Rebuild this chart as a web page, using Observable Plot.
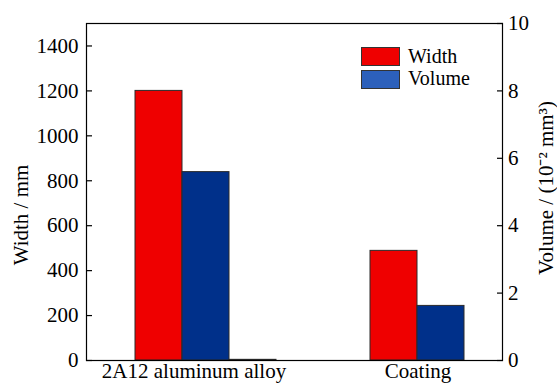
<!DOCTYPE html>
<html><head><meta charset="utf-8">
<script src="https://cdn.jsdelivr.net/npm/d3@7"></script>
<script src="https://cdn.jsdelivr.net/npm/@observablehq/plot@0.6"></script>
<style>
body{margin:0;background:#fff;font-family:'Liberation Serif'}
#c{position:relative;width:557px;height:387px;font-family:'Liberation Serif'}
#c svg{display:block}
.leg{position:absolute;left:361px;font-size:20px;line-height:20px;color:#000;font-family:'Liberation Serif'}
.leg .sw{position:absolute;left:0;width:37px;height:17px;border:1px solid #333}
.leg .lb{position:absolute;left:47px;white-space:nowrap}
</style></head><body><div id="c"></div>
<script>
// ---- data ----
const groups = ["2A12 aluminum alloy", "Coating"];
const widthValues = [1200, 488];        // Width / mm
const volumeValues = [5.59, 1.62];      // Volume / (10^-2 mm^3)
const residualValues = [0.02, null];    // tiny third bar (2A12 only)
const leftTicks = [0, 200, 400, 600, 800, 1000, 1200, 1400];
const rightTicks = [0, 2, 4, 6, 8, 10];
const leftMax = 1500, rightMax = 10;
const seriesNames = ["Width", "Volume"];
const colors = {Width: "#ef0000", Volume: "#00308a", Other: "#00308a"};
const legendColors = {Width: "#ef0000", Volume: "#2c60bb"};

const ratio = leftMax / rightMax;
const slot = (g, s) => g + "|" + s;
const slots = [
  slot(groups[0], "Width"), slot(groups[0], "Volume"), slot(groups[0], "Other"),
  "gap1", "gap2",
  slot(groups[1], "Width"), slot(groups[1], "Volume")
];
const bars = [];
groups.forEach((g, i) => {
  bars.push({slot: slot(g, "Width"), series: "Width", y: widthValues[i]});
  bars.push({slot: slot(g, "Volume"), series: "Volume", y: volumeValues[i] * ratio});
  if (residualValues[i] != null) bars.push({slot: slot(g, "Other"), series: "Other", y: residualValues[i] * ratio});
});

const font = "Liberation Serif";
const fs = 21;
const chart = Plot.plot({
  width: 557, height: 387,
  marginLeft: 86, marginRight: 55, marginTop: 23, marginBottom: 27,
  style: {fontFamily: font, fontSize: fs + "px", color: "#000", background: "#fff"},
  x: {type: "band", domain: slots, paddingInner: 0, paddingOuter: 0.879, align: 0.566, axis: null},
  y: {domain: [0, leftMax], axis: null},
  marks: [
    Plot.barY(bars, {x: "slot", y: "y", fill: d => colors[d.series], stroke: "#2a2a2a", strokeWidth: 1}),
    Plot.frame({stroke: "#000", strokeWidth: 1.2}),
    Plot.axisY(leftTicks, {anchor: "left", label: null, tickSize: -6, tickPadding: 14, tickFormat: d3.format("d"), fontSize: fs, strokeWidth: 1.2}),
    Plot.axisY(rightTicks.map(d => d * ratio), {anchor: "right", label: null, tickSize: -6, tickPadding: 11.5, tickFormat: d => d3.format("d")(d / ratio), fontSize: fs, strokeWidth: 1.2}),
    Plot.text([groups[0]], {x: () => slot(groups[0], "Volume"), text: d => d, frameAnchor: "bottom", lineAnchor: "top", dy: 3, dx: -12, fontSize: fs}),
    Plot.text([groups[1]], {x: () => slot(groups[1], "Width"), text: d => d, frameAnchor: "bottom", lineAnchor: "top", dy: 3, dx: 24, fontSize: fs}),
    Plot.text(["Width / mm"], {frameAnchor: "left", textAnchor: "middle", dx: -65, dy: 23, rotate: -90, fontSize: fs, text: d => d}),
    Plot.text(["Volume / (10\u207B\u00B2 mm\u00B3)"], {frameAnchor: "right", textAnchor: "middle", dx: 44, dy: -4, rotate: -90, fontSize: fs, text: d => d})
  ]
});
const c = document.getElementById("c");
c.appendChild(chart);
// legend
const leg = document.createElement("div");
leg.className = "leg";
leg.style.top = "47px";
seriesNames.forEach((s, i) => {
  const sw = document.createElement("div");
  sw.className = "sw"; sw.style.top = (i * 23) + "px"; sw.style.background = legendColors[s];
  const lb = document.createElement("div");
  lb.className = "lb"; lb.style.top = (i * 22 - 1) + "px"; lb.textContent = s;
  leg.appendChild(sw); leg.appendChild(lb);
});
c.appendChild(leg);
</script></body></html>
